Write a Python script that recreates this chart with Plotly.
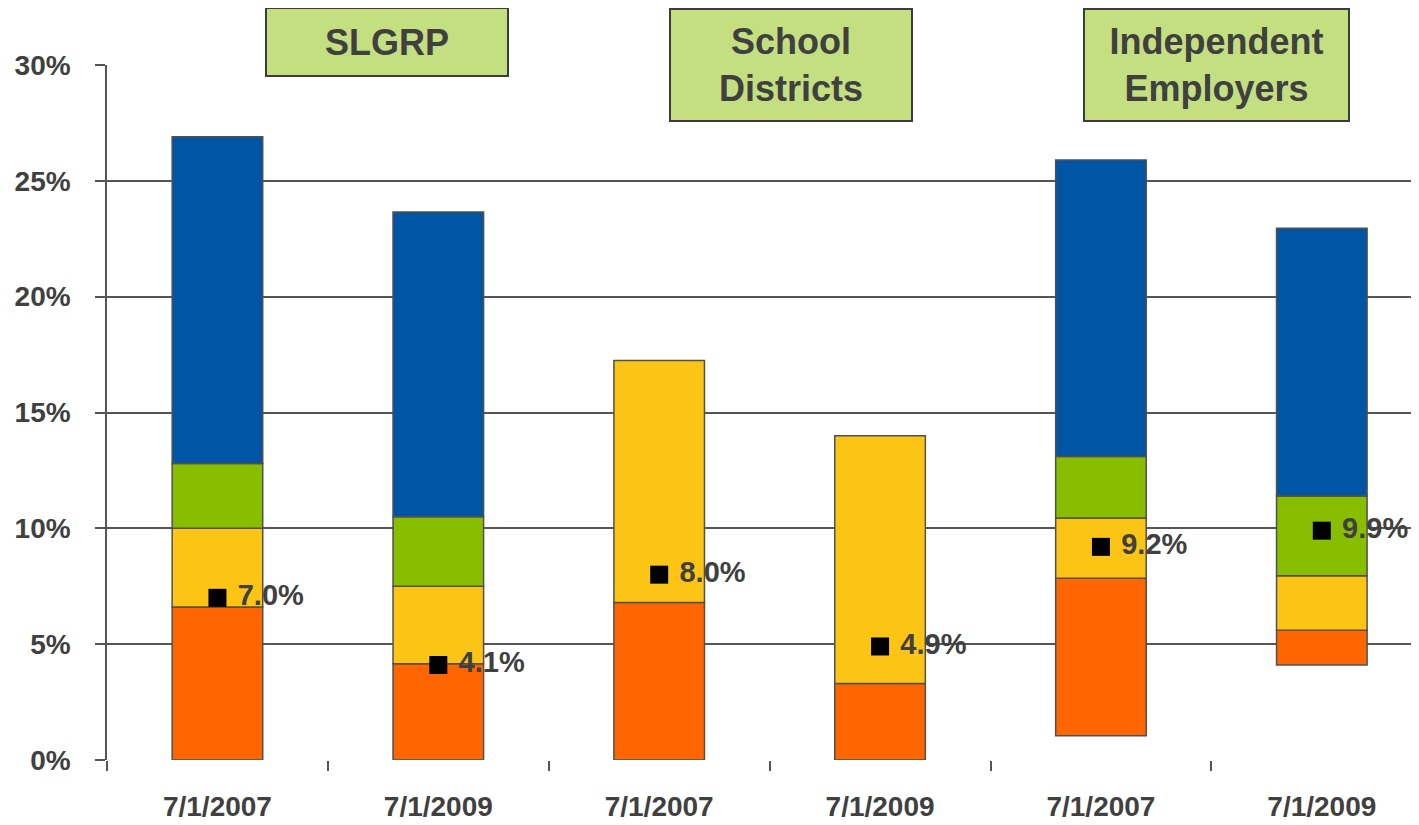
import plotly.graph_objects as go

# ---- data ----
categories = ["7/1/2007", "7/1/2009", "7/1/2007", "7/1/2009", "7/1/2007", "7/1/2009"]
cat_keys = ["c0", "c1", "c2", "c3", "c4", "c5"]
start = [0, 0, 0, 0, 1.05, 4.1]
orange = [6.6, 4.15, 6.8, 3.3, 6.8, 1.5]
yellow = [3.4, 3.35, 10.45, 10.7, 2.6, 2.35]
green = [2.8, 3.0, None, None, 2.65, 3.45]
blue = [14.1, 13.15, None, None, 12.8, 11.55]
marker_vals = [7.0, 4.1, 8.0, 4.9, 9.2, 9.9]
group_labels = ["SLGRP", "School<br>Districts", "Independent<br>Employers"]

series = [
    ("orange", orange, "#FF6600"),
    ("yellow", yellow, "#FCC515"),
    ("green", green, "#88BE00"),
    ("blue", blue, "#0055A5"),
]

fig = go.Figure()
base = list(start)
for name, vals, color in series:
    b = [base[i] if vals[i] is not None else None for i in range(len(vals))]
    fig.add_trace(go.Bar(
        x=cat_keys, y=vals, base=b, name=name,
        marker=dict(color=color, line=dict(color="#505050", width=1.5)),
        width=0.41, showlegend=False, hoverinfo="skip",
    ))
    base = [base[i] + (vals[i] if vals[i] is not None else 0) for i in range(len(vals))]

fig.add_trace(go.Scatter(
    x=cat_keys, y=marker_vals, mode="markers+text",
    marker=dict(symbol="square", size=18, color="black"),
    text=[f"&nbsp;{v:.1f}%" for v in marker_vals],
    textposition="middle right",
    textfont=dict(family="Arial", size=29, color="#404040", weight="bold"),
    showlegend=False, hoverinfo="skip",
))

grid_c = "#555555"
fig.update_layout(
    width=1411, height=817,
    margin=dict(l=99, r=0, t=57, b=65, autoexpand=False),
    plot_bgcolor="white", paper_bgcolor="white",
    barmode="overlay",
    font=dict(family="Arial", color="#404040"),
    xaxis=dict(
        type="category", categoryorder="array", categoryarray=cat_keys,
        tickmode="array", tickvals=cat_keys, ticktext=categories,
        tickson="boundaries", ticks="outside", ticklen=10, tickwidth=1.5, tickcolor=grid_c,
        range=[-0.5, 5.44], showgrid=False, zeroline=False, automargin=False,
        showline=False,
        tickfont=dict(family="Arial", size=28, color="#404040", weight="bold"),
        ticklabelstandoff=27,
    ),
    yaxis=dict(
        range=[0, 30], tickvals=[0, 5, 10, 15, 20, 25, 30],
        ticktext=["0%", "5%", "10%", "15%", "20%", "25%", "30%"],
        showgrid=True, gridcolor=grid_c, gridwidth=1.5, automargin=False,
        ticks="outside", ticklen=10, tickwidth=1.5, tickcolor=grid_c,
        showline=True, linecolor=grid_c, linewidth=1.5, zeroline=False,
        tickfont=dict(family="Arial", size=28, color="#404040", weight="bold"),
        ticklabelstandoff=19,
    ),
)

box_pos = [(0.2134, 1.0324, 240, 66), (0.5213, 1.0007, 240, 110), (0.8453, 1.0, 263, 110)]
for lab, (bx, by, w, h) in zip(group_labels, box_pos):
    fig.add_annotation(
        x=bx, y=by, xref="paper", yref="paper", xanchor="center", yanchor="middle",
        text=lab, showarrow=False, width=w, height=h, align="center", valign="middle",
        bgcolor="#C3DF80", bordercolor="#3c3c3c", borderwidth=2, borderpad=0,
        font=dict(family="Arial", size=36, color="#404040", weight="bold"),
    )

fig.add_shape(type="line", xref="paper", yref="paper", x0=0.9985, x1=0.9985,
              y0=0.9065, y1=1.0935, line=dict(color="#555555", width=1.5))

fig.write_html("out.html")
